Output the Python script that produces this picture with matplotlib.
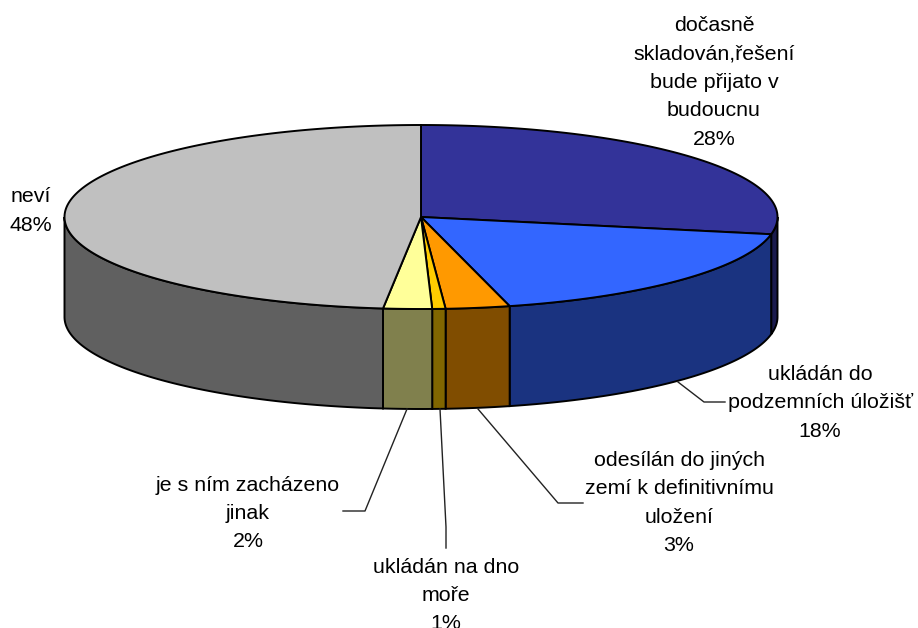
import numpy as np
from matplotlib import pyplot as plt
from matplotlib.patches import Polygon

plt.rcParams['font.family'] = ['Liberation Sans', 'DejaVu Sans']

labels = ["dočasně\nskladován,řešení\nbude přijato v\nbudoucnu\n28%",
          "ukládán do\npodzemních úložišť\n18%",
          "odesílán do jiných\nzemí k definitivnímu\nuložení\n3%",
          "ukládán na dno\nmoře\n1%",
          "je s ním zacházeno\njinak\n2%",
          "neví\n48%"]
# slice sizes as measured on the picture, the printed percentages are rounded
values = [28, 18, 2.9, 0.6, 2.2, 48.3]
top_colors = ["#333399", "#3366ff", "#ff9900", "#ffcc00", "#ffff99", "#c0c0c0"]
side_colors = ["#1a1a4d", "#1a3380", "#804d00", "#806600", "#80804d", "#606060"]

# label centre (px) and leader line points (px)
label_pos = [(714, 82.5), (820, 403), (679, 503), (446, 595.5), (248, 513.5), (31, 211)]
leaders = [None,
           [(678, 382), (704, 402), (725, 402)],
           [(478, 409), (558, 503), (583, 503)],
           [(440, 409), (446, 527), (446, 548)],
           [(407, 409), (365, 511), (343, 511)],
           None]

cx, cy, a, b, depth = 421, 217, 356.5, 92, 100

fig = plt.figure(figsize=(9.18, 6.28), dpi=100)
ax = fig.add_axes([0, 0, 1, 1])
ax.set_xlim(0, 918)
ax.set_ylim(628, 0)
ax.axis('off')


def rim(t0, t1):
    t = np.linspace(t0, t1, max(int(abs(t1 - t0) * 80), 2))
    return cx + a * np.sin(t), cy - b * np.cos(t)


edges = np.radians(np.cumsum([0] + values) * 3.6)

# outer wall, only the part facing the viewer
for i in range(len(values)):
    t0, t1 = edges[i], edges[i + 1]
    t0v, t1v = max(t0, np.pi / 2), min(t1, 3 * np.pi / 2)
    if t1v <= t0v:
        continue
    x, y = rim(t0v, t1v)
    pts = list(zip(x, y)) + list(zip(x[::-1], y[::-1] + depth))
    ax.add_patch(Polygon(pts, closed=True, fc=side_colors[i], ec='black', lw=1.4, zorder=2))

# top face
for i in range(len(values)):
    x, y = rim(edges[i], edges[i + 1])
    pts = [(cx, cy)] + list(zip(x, y))
    ax.add_patch(Polygon(pts, closed=True, fc=top_colors[i], ec='black', lw=1.4, zorder=3))

for lab, pos in zip(labels, label_pos):
    ax.text(pos[0], pos[1], lab, ha='center', va='center', fontsize=15.4, linespacing=1.62, color='black')

for line in leaders:
    if line:
        ax.plot([p[0] for p in line], [p[1] for p in line], color='#222222', lw=1, zorder=4)

fig.savefig("out.png", dpi=100)
